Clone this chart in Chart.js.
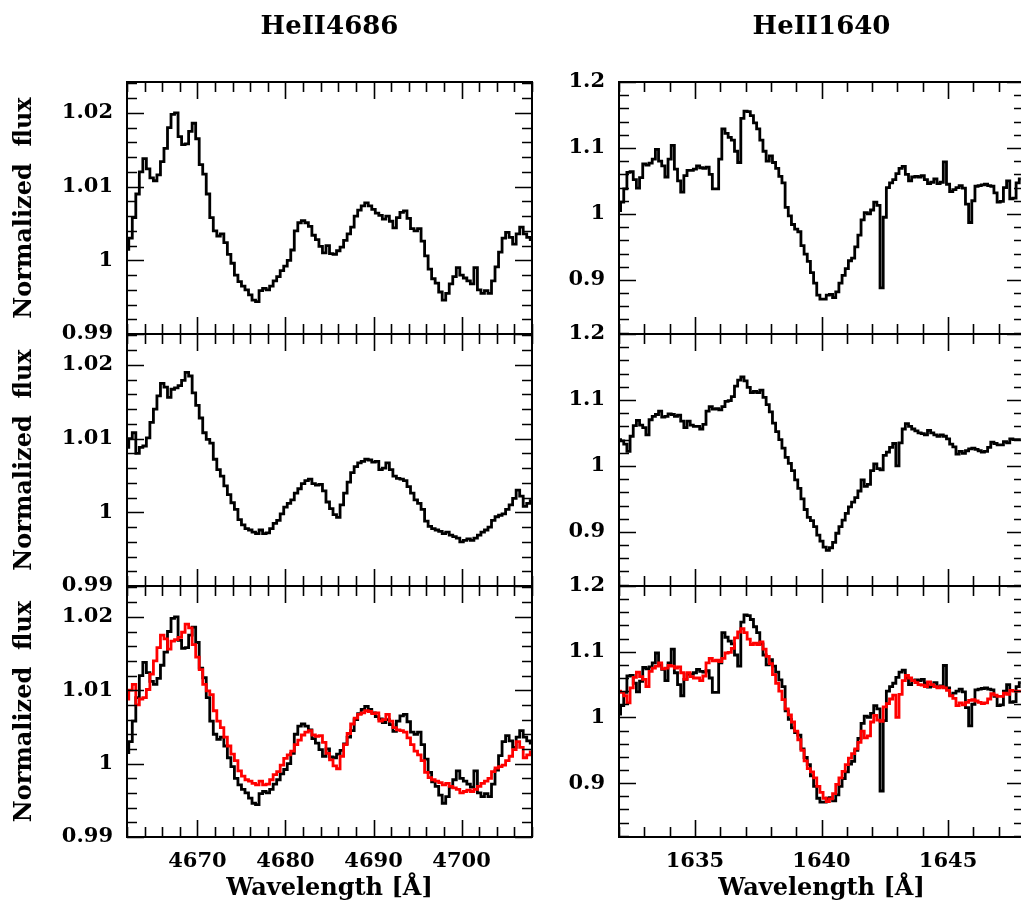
<!DOCTYPE html>
<html>
<head>
<meta charset="utf-8">
<title>HeII 4686 / HeII 1640 line profiles</title>
<script src="https://cdn.jsdelivr.net/npm/chart.js@4.4.0/dist/chart.umd.min.js"></script>
<style>
  html, body { margin: 0; padding: 0; background: #fff; width: 1021px; height: 910px; overflow: hidden; position: relative; }
  canvas { position: absolute; }
</style>
</head>
<body>
<script>
// ---- Optical region: HeII 4686 (wavelength grid in Angstrom) ----
const waveOptical = [
  4662.0, 4662.4, 4662.8, 4663.2, 4663.6, 4664.0, 4664.4, 4664.8, 4665.2, 4665.6,
  4666.0, 4666.4, 4666.8, 4667.2, 4667.6, 4668.0, 4668.4, 4668.8, 4669.2, 4669.6,
  4670.0, 4670.4, 4670.8, 4671.2, 4671.6, 4672.0, 4672.4, 4672.8, 4673.2, 4673.6,
  4674.0, 4674.4, 4674.8, 4675.2, 4675.6, 4676.0, 4676.4, 4676.8, 4677.2, 4677.6,
  4678.0, 4678.4, 4678.8, 4679.2, 4679.6, 4680.0, 4680.4, 4680.8, 4681.2, 4681.6,
  4682.0, 4682.4, 4682.8, 4683.2, 4683.6, 4684.0, 4684.4, 4684.8, 4685.2, 4685.6,
  4686.0, 4686.4, 4686.8, 4687.2, 4687.6, 4688.0, 4688.4, 4688.8, 4689.2, 4689.6,
  4690.0, 4690.4, 4690.8, 4691.2, 4691.6, 4692.0, 4692.4, 4692.8, 4693.2, 4693.6,
  4694.0, 4694.4, 4694.8, 4695.2, 4695.6, 4696.0, 4696.4, 4696.8, 4697.2, 4697.6,
  4698.0, 4698.4, 4698.8, 4699.2, 4699.6, 4700.0, 4700.4, 4700.8, 4701.2, 4701.6,
  4702.0, 4702.4, 4702.8, 4703.2, 4703.6, 4704.0, 4704.4, 4704.8, 4705.2, 4705.6,
  4706.0, 4706.4, 4706.8, 4707.2, 4707.6, 4708.0
];
// observed profile (upper panel, black)
const fluxOpticalA = [
  1.0015, 1.0030, 1.0058, 1.0090, 1.0120, 1.0138, 1.0124, 1.0112, 1.0108, 1.0116,
  1.0134, 1.0152, 1.0180, 1.0198, 1.0200, 1.0168, 1.0157, 1.0158, 1.0175, 1.0186,
  1.0165, 1.0130, 1.0117, 1.0090, 1.0058, 1.0040, 1.0033, 1.0036, 1.0024, 1.0008,
  0.9996, 0.9980, 0.9971, 0.9965, 0.9960, 0.9953, 0.9946, 0.9944, 0.9959, 0.9962,
  0.9960, 0.9965, 0.9972, 0.9978, 0.9986, 0.9992, 1.0000, 1.0014, 1.0040, 1.0051,
  1.0054, 1.0051, 1.0046, 1.0034, 1.0028, 1.0019, 1.0010, 1.0020, 1.0009, 1.0008,
  1.0013, 1.0018, 1.0027, 1.0036, 1.0045, 1.0060, 1.0068, 1.0074, 1.0078, 1.0074,
  1.0069, 1.0064, 1.0061, 1.0056, 1.0060, 1.0053, 1.0044, 1.0058, 1.0065, 1.0067,
  1.0057, 1.0043, 1.0040, 1.0043, 1.0026, 1.0006, 0.9988, 0.9975, 0.9969, 0.9957,
  0.9946, 0.9955, 0.9968, 0.9978, 0.9990, 0.9980, 0.9976, 0.9972, 0.9968, 0.9990,
  0.9960, 0.9955, 0.9959, 0.9955, 0.9972, 0.9991, 1.0011, 1.0030, 1.0038, 1.0031,
  1.0022, 1.0036, 1.0045, 1.0036, 1.0031, 1.0028
];
// second profile (middle panel black, lower panel red)
const fluxOpticalB = [
  1.0088, 1.0100, 1.0108, 1.0080, 1.0088, 1.0090, 1.0101, 1.0122, 1.0140, 1.0158,
  1.0175, 1.0170, 1.0156, 1.0167, 1.0169, 1.0172, 1.0179, 1.0190, 1.0185, 1.0162,
  1.0145, 1.0128, 1.0108, 1.0099, 1.0094, 1.0072, 1.0058, 1.0049, 1.0036, 1.0024,
  1.0013, 1.0004, 0.9990, 0.9983, 0.9978, 0.9976, 0.9973, 0.9971, 0.9976, 0.9971,
  0.9972, 0.9978, 0.9985, 0.9989, 0.9998, 1.0007, 1.0012, 1.0017, 1.0026, 1.0032,
  1.0039, 1.0043, 1.0045, 1.0039, 1.0037, 1.0038, 1.0029, 1.0014, 1.0005, 0.9997,
  0.9993, 1.0010, 1.0026, 1.0041, 1.0054, 1.0062, 1.0067, 1.0069, 1.0072, 1.0071,
  1.0068, 1.0069, 1.0058, 1.0060, 1.0067, 1.0058, 1.0049, 1.0046, 1.0045, 1.0043,
  1.0035, 1.0026, 1.0017, 1.0012, 1.0004, 0.9988, 0.9981, 0.9978, 0.9976, 0.9974,
  0.9971, 0.9973, 0.9969, 0.9967, 0.9965, 0.9960, 0.9962, 0.9964, 0.9962, 0.9965,
  0.9969, 0.9973, 0.9976, 0.9980, 0.9989, 0.9994, 0.9996, 0.9998, 1.0004, 1.0010,
  1.0019, 1.0030, 1.0022, 1.0008, 1.0012, 1.0016
];

// ---- UV region: HeII 1640 ----
const waveUV = [
  1632, 1632.125, 1632.25, 1632.375, 1632.5, 1632.625, 1632.75, 1632.875,
  1633, 1633.125, 1633.25, 1633.375, 1633.5, 1633.625, 1633.75, 1633.875,
  1634, 1634.125, 1634.25, 1634.375, 1634.5, 1634.625, 1634.75, 1634.875,
  1635, 1635.125, 1635.25, 1635.375, 1635.5, 1635.625, 1635.75, 1635.875,
  1636, 1636.125, 1636.25, 1636.375, 1636.5, 1636.625, 1636.75, 1636.875,
  1637, 1637.125, 1637.25, 1637.375, 1637.5, 1637.625, 1637.75, 1637.875,
  1638, 1638.125, 1638.25, 1638.375, 1638.5, 1638.625, 1638.75, 1638.875,
  1639, 1639.125, 1639.25, 1639.375, 1639.5, 1639.625, 1639.75, 1639.875,
  1640, 1640.125, 1640.25, 1640.375, 1640.5, 1640.625, 1640.75, 1640.875,
  1641, 1641.125, 1641.25, 1641.375, 1641.5, 1641.625, 1641.75, 1641.875,
  1642, 1642.125, 1642.25, 1642.375, 1642.5, 1642.625, 1642.75, 1642.875,
  1643, 1643.125, 1643.25, 1643.375, 1643.5, 1643.625, 1643.75, 1643.875,
  1644, 1644.125, 1644.25, 1644.375, 1644.5, 1644.625, 1644.75, 1644.875,
  1645, 1645.125, 1645.25, 1645.375, 1645.5, 1645.625, 1645.75, 1645.875,
  1646, 1646.125, 1646.25, 1646.375, 1646.5, 1646.625, 1646.75, 1646.875,
  1647, 1647.125, 1647.25, 1647.375, 1647.5, 1647.625, 1647.75, 1647.875
];
const fluxUVA = [
  1.005, 1.018, 1.038, 1.063, 1.064, 1.052, 1.039, 1.055,
  1.076, 1.074, 1.077, 1.083, 1.098, 1.080, 1.073, 1.056,
  1.083, 1.104, 1.068, 1.050, 1.033, 1.058, 1.066, 1.066,
  1.068, 1.073, 1.070, 1.069, 1.071, 1.060, 1.038, 1.038,
  1.083, 1.129, 1.122, 1.116, 1.112, 1.095, 1.078, 1.145,
  1.156, 1.155, 1.149, 1.138, 1.129, 1.112, 1.095, 1.080,
  1.088, 1.078, 1.069, 1.057, 1.047, 1.010, 0.997, 0.984,
  0.977, 0.973, 0.952, 0.939, 0.928, 0.911, 0.895, 0.877,
  0.871, 0.871, 0.877, 0.878, 0.873, 0.882, 0.895, 0.907,
  0.917, 0.929, 0.933, 0.950, 0.968, 0.991, 1.002, 1.000,
  1.006, 1.018, 1.013, 0.888, 0.995, 1.040, 1.047, 1.052,
  1.061, 1.069, 1.072, 1.060, 1.050, 1.056, 1.057, 1.056,
  1.058, 1.052, 1.046, 1.048, 1.053, 1.046, 1.048, 1.079,
  1.045, 1.034, 1.037, 1.040, 1.043, 1.039, 1.015, 0.987,
  1.020, 1.042, 1.043, 1.044, 1.045, 1.043, 1.042, 1.032,
  1.018, 1.019, 1.040, 1.050, 1.023, 1.024, 1.047, 1.053
];
const fluxUVB = [
  1.040, 1.038, 1.033, 1.022, 1.045, 1.061, 1.069, 1.062,
  1.058, 1.047, 1.070, 1.075, 1.078, 1.083, 1.074, 1.075,
  1.079, 1.078, 1.075, 1.077, 1.068, 1.058, 1.068, 1.062,
  1.060, 1.060, 1.056, 1.063, 1.083, 1.090, 1.086, 1.087,
  1.085, 1.090, 1.098, 1.099, 1.105, 1.121, 1.130, 1.135,
  1.129, 1.119, 1.111, 1.113, 1.111, 1.115, 1.104, 1.093,
  1.082, 1.065, 1.052, 1.040, 1.027, 1.013, 1.004, 0.993,
  0.979, 0.966, 0.950, 0.934, 0.922, 0.917, 0.908, 0.895,
  0.886, 0.877, 0.872, 0.876, 0.884, 0.898, 0.908, 0.918,
  0.928, 0.938, 0.945, 0.952, 0.962, 0.979, 0.969, 0.972,
  0.993, 1.003, 0.996, 0.994, 1.016, 1.021, 1.028, 1.034,
  1.000, 1.035, 1.056, 1.064, 1.060, 1.056, 1.053, 1.050,
  1.049, 1.047, 1.054, 1.050, 1.047, 1.045, 1.047, 1.045,
  1.041, 1.033, 1.029, 1.018, 1.022, 1.019, 1.023, 1.026,
  1.027, 1.025, 1.023, 1.021, 1.022, 1.028, 1.036, 1.034,
  1.032, 1.032, 1.037, 1.035, 1.041, 1.040, 1.040, 1.040
];

// ---- tick labels ----
const xTicksOptical = [4670, 4680, 4690, 4700];
const yTicksOptical = [0.99, 1, 1.01, 1.02];
const xTicksUV = [1635, 1640, 1645];
const yTicksUV = [0.9, 1, 1.1, 1.2];

const panelTitles = ['HeII4686', 'HeII1640'];
const yAxisTitle = 'Normalized  flux';
const xAxisTitle = 'Wavelength [Å]';

// ---- layout / style ----
const FONT = "'DejaVu Serif', 'Liberation Serif', serif";
const ROW_EDGES = [82, 334, 586, 837];   // plot frame top/bottom edges (px)
const X_AXIS_HEIGHT = 70;
const EDGE_PAD = 32;                     // room for the half-height tick labels at frame edges

const columns = [
  {
    wave: waveOptical, upper: fluxOpticalA, middle: fluxOpticalB,
    xMin: 4662, xMax: 4708, yMin: 0.99, yMax: 1.0242,
    xTicks: xTicksOptical, yTicks: yTicksOptical,
    xMinor: 2, xMajor: 10, yMinor: 0.002, yMajor: 0.01,
    title: panelTitles[0], canvasLeft: 0, canvasWidth: 545, plotLeft: 127, plotRight: 532,
    showYTitle: true
  },
  {
    wave: waveUV, upper: fluxUVA, middle: fluxUVB,
    xMin: 1632, xMax: 1648, yMin: 0.818, yMax: 1.2,
    xTicks: xTicksUV, yTicks: yTicksUV,
    xMinor: 1, xMajor: 5, yMinor: 0.02, yMajor: 0.1,
    title: panelTitles[1], canvasLeft: 540, canvasWidth: 490, plotLeft: 619, plotRight: 1024,
    showYTitle: false
  }
];

// Box frame with inward minor/major tick marks on all four sides
const frameTicks = {
  id: 'frameTicks',
  afterDatasetsDraw(chart, args, o) {
    const { ctx, chartArea: a, scales: { x, y } } = chart;
    const marks = (min, max, minor, major) => {
      const out = [];
      const n0 = Math.ceil(min / minor - 1e-6), n1 = Math.floor(max / minor + 1e-6);
      for (let n = n0; n <= n1; n++) {
        const v = n * minor;
        const r = v / major;
        out.push({ v, major: Math.abs(r - Math.round(r)) < 1e-6 });
      }
      return out;
    };
    ctx.save();
    ctx.strokeStyle = '#000';
    ctx.lineWidth = 1.6;
    ctx.beginPath();
    for (const t of marks(x.min, x.max, o.xMinor, o.xMajor)) {
      const px = Math.round(x.getPixelForValue(t.v)) + 0.5;
      const len = t.major ? o.majorLen : o.minorLen;
      ctx.moveTo(px, a.bottom); ctx.lineTo(px, a.bottom - len);
      ctx.moveTo(px, a.top); ctx.lineTo(px, a.top + len);
    }
    for (const t of marks(y.min, y.max, o.yMinor, o.yMajor)) {
      const py = Math.round(y.getPixelForValue(t.v)) + 0.5;
      const len = t.major ? o.majorLen : o.minorLen;
      ctx.moveTo(a.left, py); ctx.lineTo(a.left + len, py);
      ctx.moveTo(a.right, py); ctx.lineTo(a.right - len, py);
    }
    ctx.stroke();
    ctx.lineWidth = 2;
    ctx.strokeRect(a.left, a.top, a.right - a.left, a.bottom - a.top);
    ctx.restore();
  }
};

function spectrum(wave, flux, color, order) {
  return {
    data: wave.map((w, i) => ({ x: w, y: flux[i] })),
    borderColor: color,
    borderWidth: 2.8,
    stepped: 'middle',
    pointRadius: 0,
    fill: false,
    order: order
  };
}

function buildPanel(colIndex, row) {
  const c = columns[colIndex];
  const first = row === 0, last = row === 2;
  const top = first ? 0 : ROW_EDGES[row] - EDGE_PAD;
  const bottom = last ? ROW_EDGES[3] + X_AXIS_HEIGHT : ROW_EDGES[row + 1] + EDGE_PAD;

  const canvas = document.createElement('canvas');
  canvas.width = c.canvasWidth;
  canvas.height = bottom - top;
  canvas.style.left = c.canvasLeft + 'px';
  canvas.style.top = top + 'px';
  canvas.style.width = c.canvasWidth + 'px';
  canvas.style.height = (bottom - top) + 'px';
  document.body.appendChild(canvas);

  let datasets;
  if (row === 0) datasets = [spectrum(c.wave, c.upper, '#000000', 1)];
  else if (row === 1) datasets = [spectrum(c.wave, c.middle, '#000000', 1)];
  else datasets = [spectrum(c.wave, c.middle, '#ff0000', 0), spectrum(c.wave, c.upper, '#000000', 1)];

  const titleSize = 26;
  new Chart(canvas, {
    type: 'line',
    data: { datasets },
    plugins: [frameTicks],
    options: {
      responsive: false,
      devicePixelRatio: 1,
      animation: false,
      events: [],
      layout: {
        padding: {
          left: 0,
          right: c.canvasWidth - (c.plotRight - c.canvasLeft),
          top: first ? 0 : EDGE_PAD,
          bottom: last ? 0 : EDGE_PAD
        }
      },
      plugins: {
        legend: { display: false },
        tooltip: { enabled: false },
        title: {
          display: first,
          text: c.title,
          color: '#000',
          fullSize: false,
          font: { family: FONT, size: titleSize, weight: 'bold' },
          padding: { top: 12, bottom: ROW_EDGES[0] - 12 - titleSize * 1.2 }
        },
        frameTicks: {
          xMinor: c.xMinor, xMajor: c.xMajor, yMinor: c.yMinor, yMajor: c.yMajor,
          majorLen: 17, minorLen: 10
        }
      },
      scales: {
        x: {
          type: 'linear',
          min: c.xMin, max: c.xMax,
          display: last,
          afterBuildTicks: s => { s.ticks = c.xTicks.map(v => ({ value: v })); },
          afterFit: s => { if (last) s.height = X_AXIS_HEIGHT; },
          grid: { display: false, drawTicks: false },
          border: { display: false },
          ticks: {
            padding: 12, color: '#000', maxRotation: 0, autoSkip: false,
            font: { family: FONT, size: 21, weight: 'bold' },
            callback: v => String(v)
          },
          title: {
            display: last, text: xAxisTitle, color: '#000',
            font: { family: FONT, size: 24, weight: 'bold' },
            padding: { top: 0, bottom: 4 }
          }
        },
        y: {
          type: 'linear',
          min: c.yMin, max: c.yMax,
          afterBuildTicks: s => { s.ticks = c.yTicks.map(v => ({ value: v })); },
          afterFit: s => { s.width = c.plotLeft - c.canvasLeft; },
          grid: { display: false, drawTicks: false },
          border: { display: false },
          ticks: {
            padding: 14, color: '#000', autoSkip: false,
            font: { family: FONT, size: 21, weight: 'bold' },
            callback: v => String(v)
          },
          title: {
            display: c.showYTitle, text: yAxisTitle, color: '#000',
            font: { family: FONT, size: 24, weight: 'bold' },
            padding: { top: 10, bottom: 0 }
          }
        }
      }
    }
  });
}

for (let col = 0; col < 2; col++) {
  for (let row = 0; row < 3; row++) buildPanel(col, row);
}
</script>
</body>
</html>
